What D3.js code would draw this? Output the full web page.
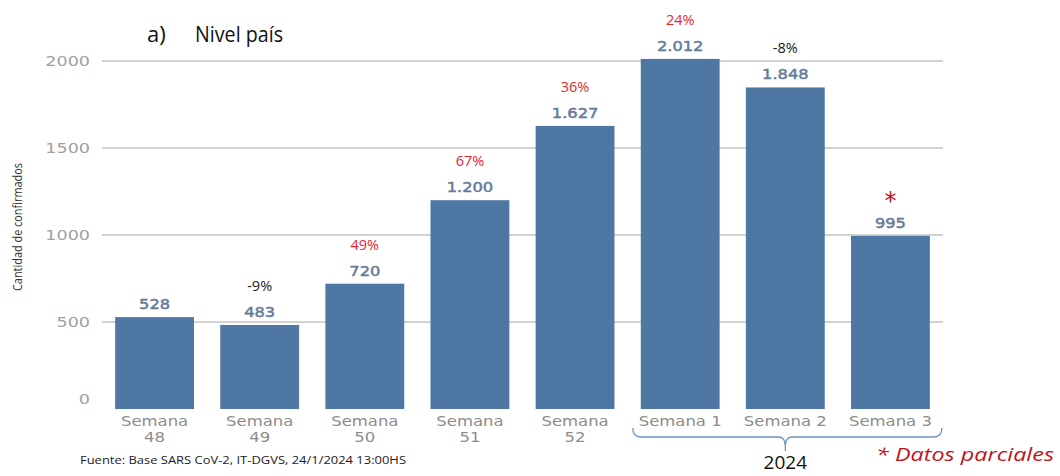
<!DOCTYPE html>
<html>
<head>
<meta charset="utf-8">
<script src="https://cdn.jsdelivr.net/npm/d3@7"></script>
<style>
  html, body { margin: 0; padding: 0; background: #fff; }
  svg { display: block; }
</style>
</head>
<body>
<svg id="chart" width="1060" height="476"></svg>
<script>
// Weekly confirmed cases, national level
const weeks = ["Semana 48", "Semana 49", "Semana 50", "Semana 51", "Semana 52", "Semana 1", "Semana 2", "Semana 3"];
const weekLines = [["Semana", "48"], ["Semana", "49"], ["Semana", "50"], ["Semana", "51"], ["Semana", "52"], ["Semana 1"], ["Semana 2"], ["Semana 3"]];
const confirmed = [528, 483, 720, 1200, 1627, 2012, 1848, 995];
const valueLabels = ["528", "483", "720", "1.200", "1.627", "2.012", "1.848", "995"];
// Week-over-week change (%); the last week is partial
const pctChange = [null, -9, 49, 67, 36, 24, -8, null];
const partial = [false, false, false, false, false, false, false, true];
const yTicks = [0, 500, 1000, 1500, 2000];

const svg = d3.select("#chart");
const x0 = 102, x1 = 943;
const x = d3.scaleBand().domain(weeks).range([x0, x1]).paddingInner(0.25).paddingOuter(0.125);
const y = d3.scaleLinear().domain([0, 2000]).range([409, 61]);
const cx = i => x(weeks[i]) + x.bandwidth() / 2;

// Widen text glyphs horizontally by a factor
function widen(sel, f) {
  sel.each(function () {
    const w = this.getComputedTextLength();
    d3.select(this).attr("textLength", w * f).attr("lengthAdjust", "spacingAndGlyphs");
  });
  return sel;
}

// Gridlines
svg.append("g").selectAll("line")
  .data(yTicks.filter(d => d > 0))
  .join("line")
  .attr("x1", x0).attr("x2", x1)
  .attr("y1", d => y(d)).attr("y2", d => y(d))
  .attr("stroke", "#a6a6a6").attr("stroke-width", 1.2);

// Y axis tick labels
const yAxis = d3.axisLeft(y).tickValues(yTicks).tickFormat(d3.format("d")).tickSize(0).tickPadding(12);
const gy = svg.append("g").attr("transform", `translate(${x0},0)`).call(yAxis);
gy.select(".domain").remove();
gy.selectAll("text")
  .attr("font-family", "DejaVu Sans, Verdana, sans-serif")
  .attr("font-size", 13.5).attr("fill", "#a0a0a0")
  .attr("dy", d => d === 0 ? "-0.4em" : "0.32em")
  .call(widen, 1.3);

// Bars
svg.append("g").selectAll("rect")
  .data(confirmed)
  .join("rect")
  .attr("x", (d, i) => x(weeks[i]))
  .attr("width", x.bandwidth())
  .attr("y", d => y(d))
  .attr("height", d => y(0) - y(d))
  .attr("fill", "#4e77a4");

// Value labels
svg.append("g").selectAll("text")
  .data(confirmed)
  .join("text")
  .attr("x", (d, i) => cx(i))
  .attr("y", d => y(d) - 8)
  .attr("text-anchor", "middle")
  .attr("font-family", "DejaVu Sans, Verdana, sans-serif")
  .attr("font-size", 14.5)
  .attr("fill", "#667b9a").attr("stroke", "#667b9a").attr("stroke-width", 0.5)
  .text((d, i) => valueLabels[i])
  .call(widen, 1.12);

// Percent change labels
svg.append("g").selectAll("text")
  .data(pctChange.map((p, i) => ({ p, i })).filter(d => d.p !== null))
  .join("text")
  .attr("x", d => cx(d.i))
  .attr("y", d => y(confirmed[d.i]) - 34)
  .attr("text-anchor", "middle")
  .attr("font-family", "Open Sans, Liberation Sans, sans-serif")
  .attr("font-size", 14.5)
  .attr("fill", d => d.p < 0 ? "#1a1a1a" : "#e8262b")
  .text(d => `${d.p}%`);

// Partial-data marker
svg.append("g").selectAll("text")
  .data(confirmed.map((v, i) => ({ v, i })).filter(d => partial[d.i]))
  .join("text")
  .attr("x", d => cx(d.i))
  .attr("y", d => y(d.v) - 27)
  .attr("text-anchor", "middle")
  .attr("font-family", "DejaVu Sans, sans-serif")
  .attr("font-size", 24)
  .attr("fill", "#c0141c")
  .text("*");

// X category labels
const xl = svg.append("g");
weekLines.forEach((lines, i) => {
  lines.forEach((s, k) => {
    xl.append("text")
      .attr("x", cx(i))
      .attr("y", 426 + k * 16)
      .attr("text-anchor", "middle")
      .attr("font-family", "DejaVu Sans, Verdana, sans-serif")
      .attr("font-size", 13.5).attr("fill", "#8c8c8c")
      .text(s)
      .call(widen, 1.22);
  });
});

// Brace grouping the 2024 weeks
const bx0 = x("Semana 1") - 8, bx1 = x("Semana 3") + x.bandwidth() + 12;
const bm = cx(6);
const by = 428;
const brace = d3.path();
brace.moveTo(bx0, by);
brace.quadraticCurveTo(bx0, by + 9, bx0 + 8, by + 9);
brace.lineTo(bm - 7, by + 9);
brace.quadraticCurveTo(bm, by + 9, bm, by + 18);
brace.quadraticCurveTo(bm, by + 9, bm + 7, by + 9);
brace.lineTo(bx1 - 8, by + 9);
brace.quadraticCurveTo(bx1, by + 9, bx1, by);
svg.append("path").attr("d", brace.toString())
  .attr("fill", "none").attr("stroke", "#6f93bd").attr("stroke-width", 1.3);
svg.append("line").attr("x1", bm).attr("x2", bm).attr("y1", by + 18).attr("y2", by + 23)
  .attr("stroke", "#6f93bd").attr("stroke-width", 1.3);

svg.append("text").attr("x", bm).attr("y", 469).attr("text-anchor", "middle")
  .attr("font-family", "Open Sans, Liberation Sans, sans-serif")
  .attr("font-size", 19).attr("fill", "#111").text("2024");

svg.append("text").attr("x", 876).attr("y", 461)
  .attr("font-family", "Open Sans, Liberation Sans, sans-serif")
  .attr("font-style", "italic")
  .attr("font-size", 19).attr("fill", "#c0141c")
  .attr("textLength", 178).attr("lengthAdjust", "spacingAndGlyphs")
  .text("* Datos parciales");

// Source note
svg.append("text").attr("x", 80).attr("y", 464)
  .attr("font-family", "Open Sans, Liberation Sans, sans-serif")
  .attr("font-size", 10.5).attr("fill", "#1a1a1a")
  .attr("textLength", 326).attr("lengthAdjust", "spacingAndGlyphs")
  .text("Fuente: Base SARS CoV-2, IT-DGVS, 24/1/2024 13:00HS");

// Title
const title = svg.append("g").attr("font-family", "Open Sans, Liberation Sans, sans-serif")
  .attr("font-size", 22).attr("fill", "#111");
title.append("text").attr("x", 147).attr("y", 42).text("a)");
title.append("text").attr("x", 195).attr("y", 42)
  .attr("textLength", 88).attr("lengthAdjust", "spacingAndGlyphs").text("Nivel país");

// Y axis title
svg.append("text")
  .attr("transform", "translate(22,227) rotate(-90)")
  .attr("text-anchor", "middle")
  .attr("font-family", "Open Sans, Liberation Sans, sans-serif")
  .attr("font-size", 13).attr("fill", "#333")
  .attr("textLength", 128).attr("lengthAdjust", "spacingAndGlyphs")
  .text("Cantidad de confirmados");
</script>
</body>
</html>
